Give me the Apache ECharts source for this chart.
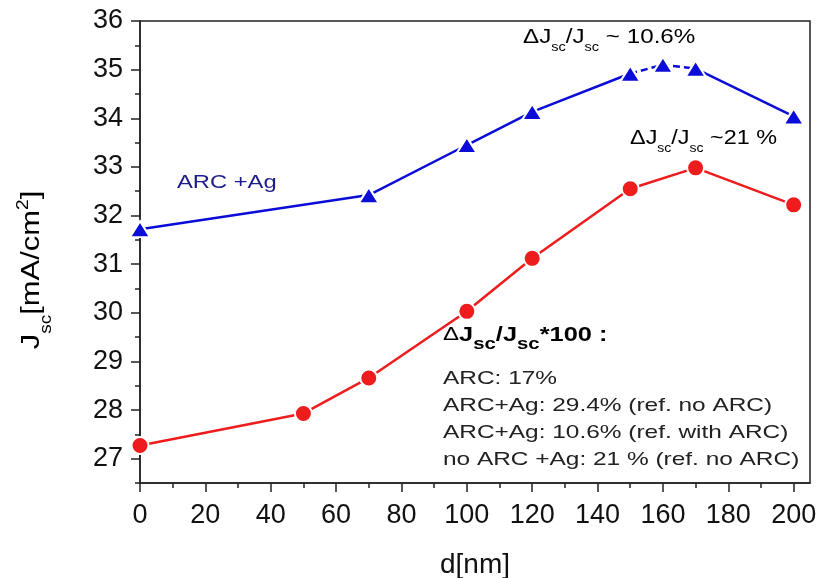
<!DOCTYPE html>
<html>
<head>
<meta charset="utf-8">
<script src="https://cdn.jsdelivr.net/npm/echarts@6/dist/echarts.min.js"></script>
<style>
  html, body { margin: 0; padding: 0; background: #fff; }
  #main { width: 831px; height: 578px; }
</style>
</head>
<body>
<div id="main"></div>
<script>
// thickness d[nm] vs Jsc[mA/cm2]
const dArcAg = [0, 70, 100, 120, 150, 160, 170, 200];
const jArcAg = [31.72, 32.42, 33.45, 34.13, 34.92, 35.1, 35.02, 34.04];
const dNoArcAg = [0, 50, 70, 100, 120, 150, 170, 200];
const jNoArcAg = [27.27, 27.93, 28.66, 30.03, 31.12, 32.55, 32.98, 32.22];

const xMajor = [0, 20, 40, 60, 80, 100, 120, 140, 160, 180, 200];
const xMinor = [10, 30, 50, 70, 90, 110, 130, 150, 170, 190];
const yMajor = [27, 28, 29, 30, 31, 32, 33, 34, 35, 36];
const yMinor = [26.5, 27.5, 28.5, 29.5, 30.5, 31.5, 32.5, 33.5, 34.5, 35.5];

const noteLines = [
  'ARC: 17%',
  'ARC+Ag: 29.4% (ref. no ARC)',
  'ARC+Ag: 10.6% (ref. with ARC)',
  'no ARC +Ag: 21 % (ref. no ARC)'
];

const FONT = '"Liberation Sans", Arial, sans-serif';
const BLUE = '#0c0cd8', RED = '#ee1c1c';

const blueData = dArcAg.map((d, i) => [d, jArcAg[i]]);
const redData = dNoArcAg.map((d, i) => [d, jNoArcAg[i]]);

const chart = echarts.init(document.getElementById('main'));

const axisLineStyle = { color: '#222', width: 1.5 };
const xBase = { type: 'value', min: 0, max: 205, position: 'bottom', splitLine: { show: false } };
const yBase = { type: 'value', min: 26.5, max: 36, position: 'left', splitLine: { show: false } };

const blueSeries = (data, dashed) => ({
  type: 'line', data, xAxisIndex: 0, yAxisIndex: 0,
  symbol: 'triangle', symbolSize: [20, 16],
  lineStyle: { color: BLUE, width: 2.5, type: dashed ? [7, 4] : 'solid' },
  itemStyle: { color: BLUE, borderColor: '#fff', borderWidth: 2 },
  z: dashed ? 2 : 3
});

// rich text pieces for subscripts
const mainTok = { fontFamily: FONT, fontSize: 20, lineHeight: 22, verticalAlign: 'top', color: '#222' };
const subTok = { fontFamily: FONT, fontSize: 12, lineHeight: 12, verticalAlign: 'top', padding: [15, 0, 0, 0], color: '#222' };

chart.setOption({
  backgroundColor: '#fff',
  animation: false,
  grid: {
    left: 140, right: 21, top: 21, bottom: 95,
    outerBoundsMode: 'none', containLabel: false,
    show: true, borderColor: '#222', borderWidth: 1.5
  },
  xAxis: [
    {
      ...xBase,
      axisLine: { lineStyle: axisLineStyle },
      axisTick: { customValues: xMajor, length: 9, lineStyle: axisLineStyle },
      axisLabel: { customValues: xMajor, fontSize: 27, fontFamily: FONT, color: '#111', margin: 19 },
      name: 'd[nm]', nameLocation: 'middle', nameGap: 68,
      nameTextStyle: { fontSize: 28, fontFamily: FONT, color: '#111' }
    },
    {
      ...xBase,
      axisLine: { show: false },
      axisTick: { customValues: xMinor, length: 5, lineStyle: axisLineStyle },
      axisLabel: { show: false }
    }
  ],
  yAxis: [
    {
      ...yBase,
      axisLine: { show: true, lineStyle: axisLineStyle },
      axisTick: { show: true, customValues: yMajor, length: 9, lineStyle: axisLineStyle },
      axisLabel: { customValues: yMajor, fontSize: 27, fontFamily: FONT, color: '#111', margin: 17 }
    },
    {
      ...yBase,
      axisLine: { show: false },
      axisTick: { show: true, customValues: yMinor, length: 5, lineStyle: axisLineStyle },
      axisLabel: { show: false }
    }
  ],
  series: [
    blueSeries(blueData.slice(0, 5), false),
    blueSeries(blueData.slice(4, 7), true),
    blueSeries(blueData.slice(6), false),
    {
      type: 'line', data: redData, xAxisIndex: 0, yAxisIndex: 0,
      symbol: 'circle', symbolSize: 17,
      lineStyle: { color: RED, width: 2.5 },
      itemStyle: { color: RED, borderColor: '#fff', borderWidth: 2 },
      z: 3
    }
  ],
  graphic: [
    {
      type: 'text', x: 34, y: 270, rotation: Math.PI / 2, scaleX: 1.19,
      style: {
        text: '{a|J}{s|sc}{a|[mA/cm}{p|2}{a|]}',
        align: 'center', verticalAlign: 'middle',
        rich: {
          a: { fontFamily: FONT, fontSize: 26, lineHeight: 30, verticalAlign: 'top', color: '#111' },
          s: { fontFamily: FONT, fontSize: 16, lineHeight: 16, verticalAlign: 'top', padding: [20, 0, 0, 0], color: '#111' },
          p: { fontFamily: FONT, fontSize: 16, lineHeight: 16, verticalAlign: 'top', padding: [-3, 0, 0, 0], color: '#111' }
        }
      }
    },
    {
      type: 'text', x: 177, y: 173, scaleX: 1.25,
      style: { text: 'ARC +Ag', fontFamily: FONT, fontSize: 19, fill: '#1c1c8a' }
    },
    {
      type: 'text', x: 523, y: 27, scaleX: 1.21,
      style: {
        text: '{a|ΔJ}{s|sc}{a|/J}{s|sc}{a| ~ 10.6%}',
        rich: { a: mainTok, s: subTok }
      }
    },
    {
      type: 'text', x: 630, y: 128, scaleX: 1.17,
      style: {
        text: '{a|ΔJ}{s|sc}{a|/J}{s|sc}{a| ~21 %}',
        rich: { a: mainTok, s: subTok }
      }
    },
    {
      type: 'text', x: 443, y: 325, scaleX: 1.27,
      style: {
        text: '{d|Δ}{b|J}{bs|sc}{b|/J}{bs|sc}{b|*100 :}',
        rich: {
          d: { fontFamily: FONT, fontSize: 19, lineHeight: 22, verticalAlign: 'top', color: '#222' },
          b: { fontFamily: FONT, fontSize: 20, fontWeight: 'bold', lineHeight: 22, verticalAlign: 'top', color: '#222' },
          bs: { fontFamily: FONT, fontSize: 16, fontWeight: 'bold', lineHeight: 16, verticalAlign: 'top', padding: [12, 0, 0, 0], color: '#222' }
        }
      }
    },
    {
      type: 'text', x: 443, y: 366, scaleX: 1.32,
      style: {
        text: noteLines.join('\n'),
        fontFamily: FONT, fontSize: 18.5, lineHeight: 26.7, fill: '#222'
      }
    }
  ]
});
</script>
</body>
</html>
